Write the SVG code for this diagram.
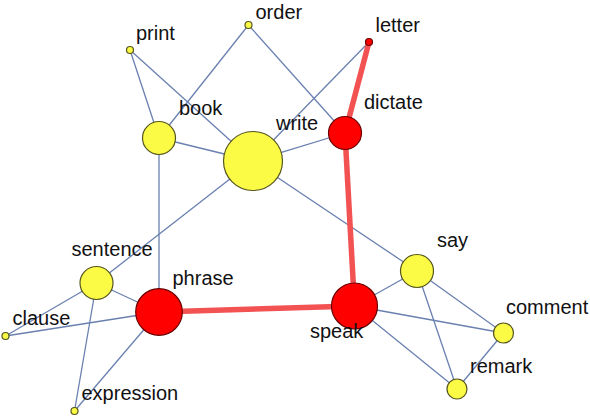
<svg xmlns="http://www.w3.org/2000/svg" width="590" height="417" viewBox="0 0 590 417">
<style>
.e{stroke:#6a80b0;stroke-width:1.3;fill:none}
.h{stroke:#f25252;stroke-width:5.5;fill:none}
.y{fill:#fbfb45;stroke:#55551f;stroke-width:1.2}
.r{fill:#ff0000;stroke:#6a0000;stroke-width:1.2}
text{font-family:"Liberation Sans",Arial,sans-serif;font-size:20px;fill:#111}
</style>
<rect width="590" height="417" fill="#ffffff"/>
<g id="edges">
<line class="e" x1="130" y1="50" x2="159" y2="138"/>
<line class="e" x1="130" y1="50" x2="253" y2="161"/>
<line class="e" x1="248.5" y1="25" x2="159" y2="138"/>
<line class="e" x1="248.5" y1="25" x2="345" y2="133"/>
<line class="e" x1="369" y1="42" x2="253" y2="161"/>
<line class="e" x1="159" y1="138" x2="253" y2="161"/>
<line class="e" x1="159" y1="138" x2="159" y2="312"/>
<line class="e" x1="253" y1="161" x2="345" y2="133"/>
<line class="e" x1="253" y1="161" x2="96.5" y2="283"/>
<line class="e" x1="253" y1="161" x2="417" y2="271"/>
<line class="e" x1="96.5" y1="283" x2="159" y2="312"/>
<line class="e" x1="96.5" y1="283" x2="5.5" y2="336"/>
<line class="e" x1="96.5" y1="283" x2="74.5" y2="411"/>
<line class="e" x1="159" y1="312" x2="5.5" y2="336"/>
<line class="e" x1="159" y1="312" x2="74.5" y2="411"/>
<line class="e" x1="354.5" y1="306" x2="417" y2="271"/>
<line class="e" x1="354.5" y1="306" x2="503.5" y2="333"/>
<line class="e" x1="354.5" y1="306" x2="457" y2="389"/>
<line class="e" x1="417" y1="271" x2="503.5" y2="333"/>
<line class="e" x1="417" y1="271" x2="457" y2="389"/>
<line class="e" x1="503.5" y1="333" x2="457" y2="389"/>
<line class="h" x1="369" y1="42" x2="345" y2="133"/>
<line class="h" x1="345" y1="133" x2="354.5" y2="306"/>
<line class="h" x1="159" y1="312" x2="354.5" y2="306"/>
</g>
<g id="print"><circle class="y" cx="130" cy="50" r="3.5"/><text x="136" y="40">print</text></g>
<g id="order"><circle class="y" cx="248.5" cy="25" r="3.5"/><text x="255.5" y="18.5">order</text></g>
<g id="letter"><circle class="r" cx="369" cy="42" r="3.5"/><text x="375.5" y="32">letter</text></g>
<g id="book"><circle class="y" cx="159" cy="138" r="16.5"/><text x="179" y="115">book</text></g>
<g id="write"><circle class="y" cx="253" cy="161" r="29.5"/><text x="276" y="130">write</text></g>
<g id="dictate"><circle class="r" cx="345" cy="133" r="16.5"/><text x="364" y="109">dictate</text></g>
<g id="sentence"><circle class="y" cx="96.5" cy="283" r="16.5"/><text x="71.5" y="256">sentence</text></g>
<g id="phrase"><circle class="r" cx="159" cy="312" r="23.3"/><text x="172.5" y="285">phrase</text></g>
<g id="clause"><circle class="y" cx="5.5" cy="336" r="3.5"/><text x="12.5" y="325">clause</text></g>
<g id="expression"><circle class="y" cx="74.5" cy="411" r="3.5"/><text x="81.5" y="400">expression</text></g>
<g id="speak"><circle class="r" cx="354.5" cy="306" r="23"/><text x="310" y="338">speak</text></g>
<g id="say"><circle class="y" cx="417" cy="271" r="16.5"/><text x="437" y="247">say</text></g>
<g id="comment"><circle class="y" cx="503.5" cy="333" r="10"/><text x="506" y="314">comment</text></g>
<g id="remark"><circle class="y" cx="457" cy="389" r="10"/><text x="470" y="373">remark</text></g>
</svg>
